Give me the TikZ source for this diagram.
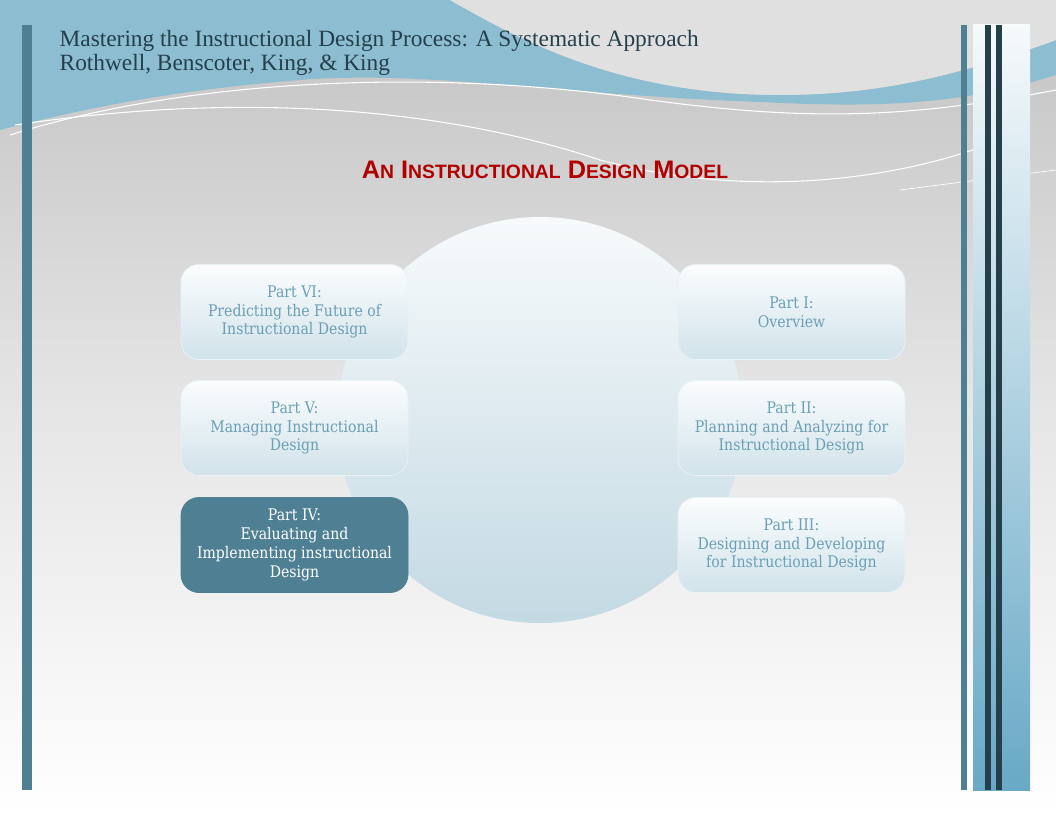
\documentclass[tikz,border=0pt]{standalone}
\usepackage{fontspec}
\setmainfont{Liberation Serif}
\newfontfamily\boxfont[FakeStretch=0.88]{DejaVu Serif}
\newfontfamily\headfont{Liberation Sans}
\begin{document}
\begin{tikzpicture}[x=0.75pt,y=-0.75pt]
\definecolor{bar}{HTML}{4F7F93}
\definecolor{dark}{HTML}{253F4B}
\definecolor{swoosh}{HTML}{8DBDD0}
\definecolor{boxtxt}{HTML}{6A9FB5}
\definecolor{lightb}{HTML}{C9DEE7}
\definecolor{rbar}{HTML}{68A9C6}
\tikzset{
  part/.style={rounded corners=18pt*0.75, minimum width=227*0.75pt, minimum height=95*0.75pt,
    draw=white!60!lightb, line width=0.6pt, top color=white!92!lightb, bottom color=lightb!85!white,
    text=boxtxt, font=\boxfont\fontsize{12}{14.2}\selectfont, align=center},
  partdark/.style={part, top color=bar, bottom color=bar, draw=bar, text=white}
}
\useasboundingbox (0,0) rectangle (1056,816);
\shade[top color=black!24, bottom color=white, middle color=black!10] (0,0) rectangle (1056,816);
\fill[white!90!black] (0,0) rectangle (1056,4);
% swooshes
\fill[swoosh] (0,0) -- (450,0) .. controls (520,40) and (620,95) .. (780,95) .. controls (880,95) and (960,75) .. (1056,40) -- (1056,75) .. controls (960,105) and (880,108) .. (760,102) .. controls (560,95) and (430,70) .. (300,80) .. controls (150,92) and (60,115) .. (0,130) -- cycle;
\fill[black!12] (450,0) -- (1056,0) -- (1056,40) .. controls (960,75) and (880,95) .. (780,95) .. controls (620,95) and (520,40) .. (450,0) -- cycle;
\draw[white, line width=0.8pt] (10,135) .. controls (200,75) and (450,70) .. (650,100) .. controls (800,120) and (900,120) .. (1056,90);
\draw[white, line width=0.8pt] (15,125) .. controls (250,90) and (450,110) .. (600,160) .. controls (750,200) and (900,180) .. (1000,140);
\draw[white, line width=0.5pt] (900,190) -- (1056,170);
% bars
\fill[bar] (22,25) rectangle (32,790);
\fill[bar] (961,25) rectangle (967,790);
\shade[top color=white!92!swoosh, bottom color=rbar] (973,25) rectangle (1030,790);
\fill[dark] (985,25) rectangle (991,790);
\fill[dark] (996,25) rectangle (1002,790);
% titles
\node[anchor=west, text=dark, font=\fontsize{17.5}{20}\selectfont] (t1) at (55,41) {Mastering the Instructional Design Process: A Systematic Approach};
\node[anchor=west, text=dark, font=\fontsize{17.5}{20}\selectfont] (t2) at (55,65) {Rothwell, Benscoter, King, \& King};
\node[text=red!70!black, font=\headfont\bfseries\fontsize{19}{22}\selectfont] (h) at (545,170)
  {A{\fontsize{14.5}{16}\selectfont N} I{\fontsize{14.5}{16}\selectfont NSTRUCTIONAL} D{\fontsize{14.5}{16}\selectfont ESIGN} M{\fontsize{14.5}{16}\selectfont ODEL}};
% circle
\shade[top color=white!85!lightb, bottom color=lightb!95!bar] (540,420) circle[radius=203*0.75pt];
\node[circle, minimum size=406*0.75pt] (c) at (540,420) {};
% boxes
\node[part] (p6) at (294.5,312) {Part VI:\\Predicting the Future of\\Instructional Design};
\node[part] (p5) at (294.5,428) {Part V:\\Managing Instructional\\Design};
\node[partdark] (p4) at (294.5,545) {Part IV:\\Evaluating and\\Implementing instructional\\Design};
\node[part] (p1) at (791.5,312) {Part I:\\Overview};
\node[part] (p2) at (791.5,428) {Part II:\\Planning and Analyzing for\\Instructional Design};
\node[part] (p3) at (791.5,545) {Part III:\\Designing and Developing\\for Instructional Design};
\end{tikzpicture}
\end{document}
